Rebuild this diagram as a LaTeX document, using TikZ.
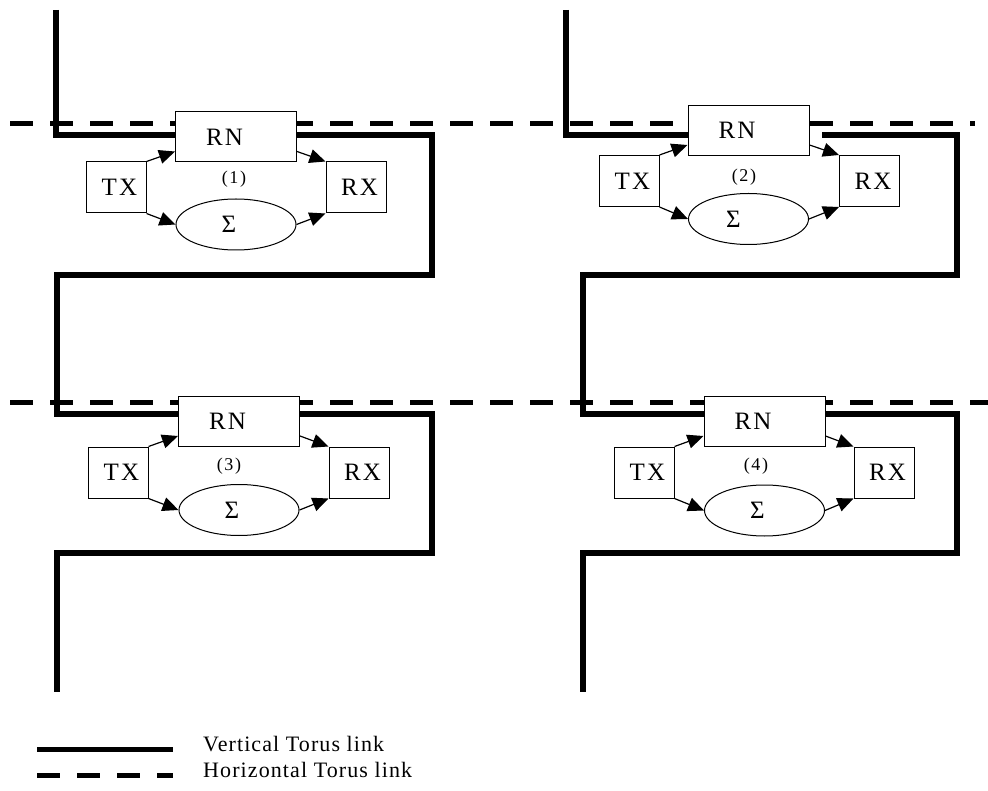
\documentclass[tikz,border=0pt]{standalone}
\usepackage{fontspec}
\setmainfont{Liberation Serif}
\newfontfamily\boxfont[LetterSpace=9]{Liberation Serif}
\newfontfamily\keyfont[LetterSpace=5]{Liberation Serif}
\usetikzlibrary{arrows.meta,shapes.geometric}

% place a label off-centre inside its node: #1 = horizontal shift, #2 = downward shift
\newcommand\nudge[3]{\raisebox{-#2}{\makebox[0pt]{\hspace*{\dimexpr #1*2\relax}#3}}}

\tikzset{
  unit/.style={draw, line width=1pt, fill=white, inner sep=0pt,
               font={\boxfont\fontsize{25}{30}\selectfont}},
  rnbox/.style={unit, rectangle, minimum width=121pt, minimum height=50pt},
  endbox/.style={unit, rectangle, minimum width=60pt, minimum height=51pt},
  sumnode/.style={unit, ellipse, minimum width=120pt, minimum height=51pt},
  tag/.style={inner sep=0pt, font={\boxfont\fontsize{18}{21}\selectfont}},
  vlink/.style={line width=5.5pt},
  hlink/.style={line width=5pt, dash pattern=on 23pt off 17pt},
  flow/.style={line width=1.2pt, -{Triangle[length=16pt,width=14pt]}},
  keytext/.style={inner sep=0pt, anchor=base west,
                  font={\keyfont\fontsize{22}{26}\selectfont}}
}

\begin{document}
\begin{tikzpicture}[x=1pt,y=-1pt]
\useasboundingbox (0,0) rectangle (988,791);

% horizontal torus links
\draw[hlink] (10,124) -- (975,124);
\draw[hlink] (10,403) -- (988,403);

% vertical torus links (snaking through each column)
\draw[vlink] (56,10) -- (56,135) -- (432,135) -- (432,275) -- (57,275)
  -- (57,414) -- (432,414) -- (432,553) -- (57,553) -- (57,692);
\draw[vlink] (566,10) -- (566,135) -- (688,135);
\draw[vlink] (822,135) -- (957,135) -- (957,275) -- (583,275)
  -- (583,414) -- (957,414) -- (957,553) -- (583,553) -- (583,692);

% node (1)
\node[rnbox]   (n1) at (236,137)   {\nudge{-11.5pt}{4pt}{RN}};
\node[endbox]  (t1) at (116,187.5) {\nudge{3.5pt}{4pt}{TX}};
\node[endbox]  (x1) at (356,187.5) {\nudge{3.5pt}{4pt}{RX}};
\node[sumnode] (s1) at (236,224.5) {\nudge{-7pt}{4.5pt}{Σ}};
\node[tag]     (l1) at (234,179)   {(1)};

% node (2)
\node[rnbox]   (n2) at (748.5,130.5) {\nudge{-11.5pt}{4pt}{RN}};
\node[endbox]  (t2) at (629,181)     {\nudge{3.5pt}{4pt}{TX}};
\node[endbox]  (x2) at (869.5,181)   {\nudge{3.5pt}{4pt}{RX}};
\node[sumnode] (s2) at (748.5,219)   {\nudge{-15pt}{4.5pt}{Σ}};
\node[tag]     (l2) at (744,177)     {(2)};

% node (3)
\node[rnbox]   (n3) at (239,421.5) {\nudge{-11.5pt}{4pt}{RN}};
\node[endbox]  (t3) at (118,472.5) {\nudge{3.5pt}{4pt}{TX}};
\node[endbox]  (x3) at (359,472.5) {\nudge{3.5pt}{4pt}{RX}};
\node[sumnode] (s3) at (239,510)   {\nudge{-7pt}{4.5pt}{Σ}};
\node[tag]     (l3) at (229,466)   {(3)};

% node (4)
\node[rnbox]   (n4) at (764.5,421.5) {\nudge{-11.5pt}{4pt}{RN}};
\node[endbox]  (t4) at (644,472.5)   {\nudge{3.5pt}{4pt}{TX}};
\node[endbox]  (x4) at (884,472.5)   {\nudge{3.5pt}{4pt}{RX}};
\node[sumnode] (s4) at (764.5,510.5) {\nudge{-7pt}{4.5pt}{Σ}};
\node[tag]     (l4) at (756,466)     {(4)};

% data paths inside each node
\foreach \i in {1,2,3,4}{
  \draw[flow] (t\i.north east) -- ([yshift=11pt]n\i.south west);
  \draw[flow] (t\i.south east) -- (s\i.west);
  \draw[flow] ([yshift=11pt]n\i.south east) -- (x\i.north west);
  \draw[flow] (s\i.east) -- (x\i.south west);
}

% legend
\draw[vlink, line width=5pt] (37,749) -- (173,749);
\draw[hlink] (37,775) -- (173,775);
\node[keytext] (kv) at (203,751) {Vertical Torus link};
\node[keytext] (kh) at (203,777) {Horizontal Torus link};
\end{tikzpicture}
\end{document}
